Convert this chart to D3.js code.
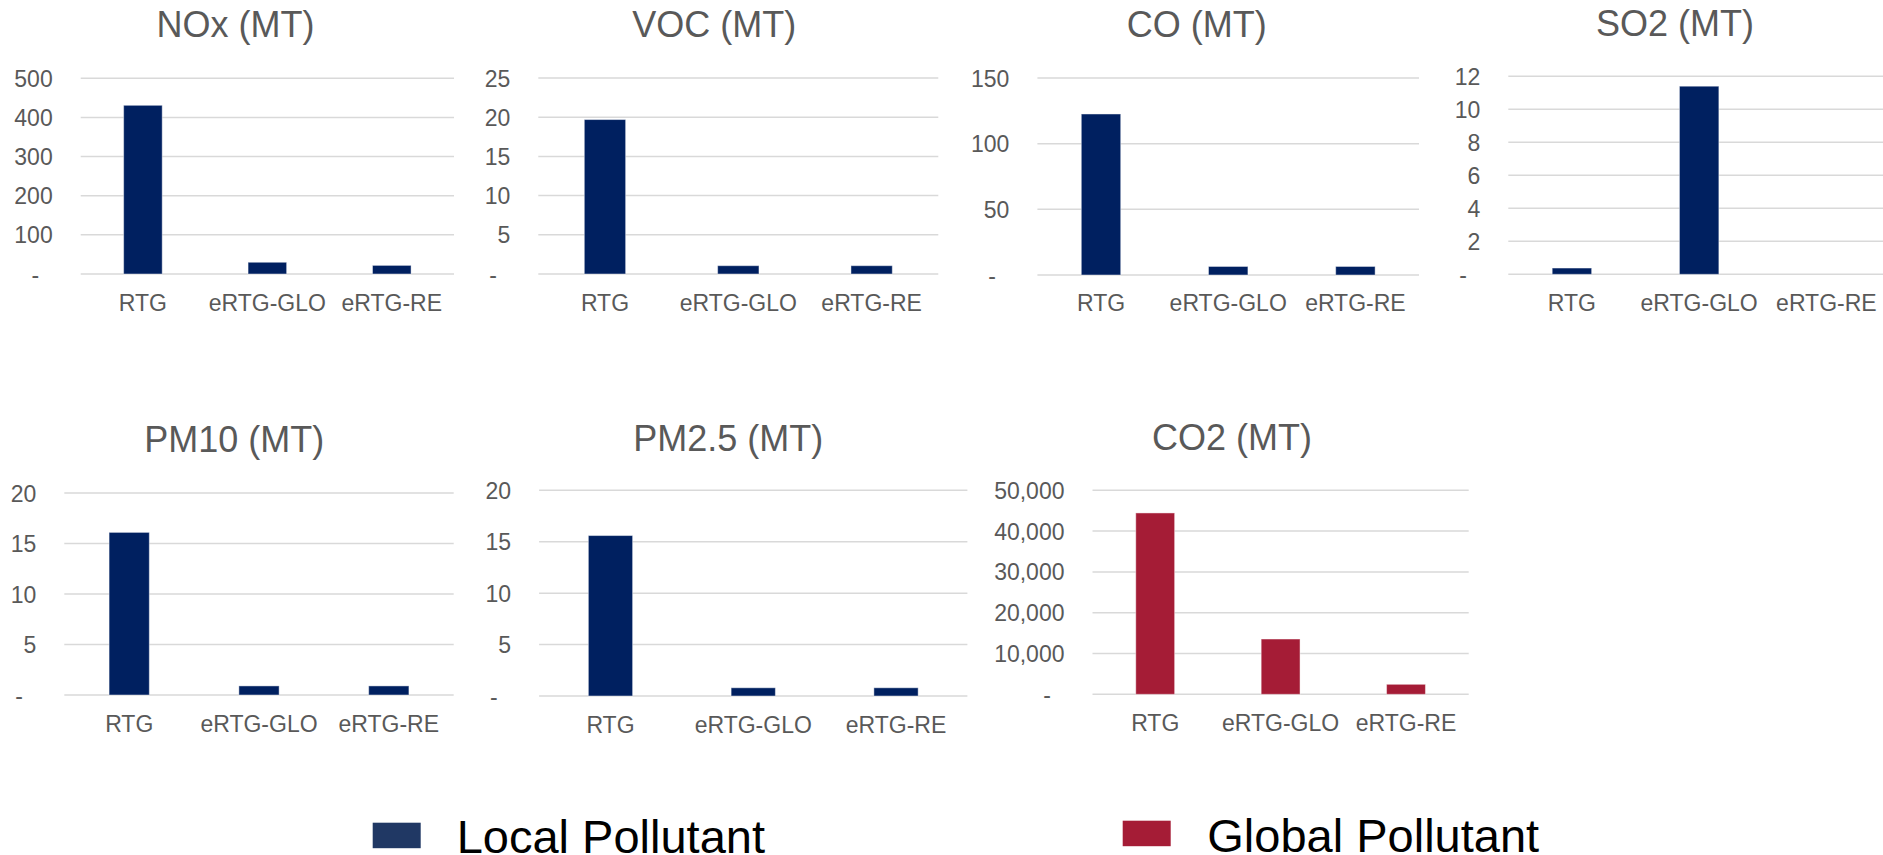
<!DOCTYPE html>
<html>
<head>
<meta charset="utf-8">
<script src="https://cdn.jsdelivr.net/npm/d3@7"></script>
<style>
  html, body { margin: 0; padding: 0; background: #ffffff; }
  svg { display: block; }
  text { font-family: "Liberation Sans", Arial, sans-serif; }
</style>
</head>
<body>
<svg id="chart" width="1883" height="855"></svg>
<script>
// ---------------- DATA ----------------
const categories = ["RTG", "eRTG-GLO", "eRTG-RE"];

const noxTitle = "NOx (MT)";
const noxValues = [431, 30, 22];
const noxTicks = [0, 100, 200, 300, 400, 500];

const vocTitle = "VOC (MT)";
const vocValues = [19.7, 1.06, 1.06];
const vocTicks = [0, 5, 10, 15, 20, 25];

const coTitle = "CO (MT)";
const coValues = [122.6, 6.5, 6.5];
const coTicks = [0, 50, 100, 150];

const so2Title = "SO2 (MT)";
const so2Values = [0.38, 11.4, 0];
const so2Ticks = [0, 2, 4, 6, 8, 10, 12];

const pm10Title = "PM10 (MT)";
const pm10Values = [16.1, 0.9, 0.9];
const pm10Ticks = [0, 5, 10, 15, 20];

const pm25Title = "PM2.5 (MT)";
const pm25Values = [15.6, 0.8, 0.8];
const pm25Ticks = [0, 5, 10, 15, 20];

const co2Title = "CO2 (MT)";
const co2Values = [44450, 13550, 2450];
const co2Ticks = [0, 10000, 20000, 30000, 40000, 50000];

const legendLabels = ["Local Pollutant", "Global Pollutant"];

// ---------------- STYLE / LAYOUT ----------------
const localColor = "#002060";
const globalColor = "#A51C36";
const legendLocalColor = "#203864";
const legendGlobalColor = "#A51C36";
const textGray = "#595959";
const gridGray = "#D9D9D9";

const panels = [
  { title: noxTitle, values: noxValues, ticks: noxTicks, color: localColor, comma: false,
    x0: 80.7, x1: 454, yTop: 78.3, yBot: 274, titleX: 235.5, titleY: 36.5, labelY: 311 },
  { title: vocTitle, values: vocValues, ticks: vocTicks, color: localColor, comma: false,
    x0: 538.3, x1: 938.3, yTop: 78, yBot: 274, titleX: 714.2, titleY: 36.5, labelY: 311 },
  { title: coTitle, values: coValues, ticks: coTicks, color: localColor, comma: false,
    x0: 1037.4, x1: 1419, yTop: 78, yBot: 275, titleX: 1196.7, titleY: 36.5, labelY: 311 },
  { title: so2Title, values: so2Values, ticks: so2Ticks, color: localColor, comma: false,
    x0: 1508.3, x1: 1890, yTop: 76.3, yBot: 274.3, titleX: 1675, titleY: 35.5, labelY: 311 },
  { title: pm10Title, values: pm10Values, ticks: pm10Ticks, color: localColor, comma: false,
    x0: 64.3, x1: 453.7, yTop: 493, yBot: 695, titleX: 234.3, titleY: 451.5, labelY: 732 },
  { title: pm25Title, values: pm25Values, ticks: pm25Ticks, color: localColor, comma: false,
    x0: 539.1, x1: 967.4, yTop: 490.3, yBot: 696, titleX: 728.3, titleY: 450.7, labelY: 732.5 },
  { title: co2Title, values: co2Values, ticks: co2Ticks, color: globalColor, comma: true,
    x0: 1092.5, x1: 1468.7, yTop: 490.3, yBot: 694.3, titleX: 1232, titleY: 450, labelY: 731.5 }
];

const svg = d3.select("#chart");
const fmtComma = d3.format(",");

panels.forEach(p => {
  const g = svg.append("g");
  const x = d3.scaleBand().domain(categories).range([p.x0, p.x1])
    .paddingInner(0.69).paddingOuter(0.345);
  const y = d3.scaleLinear().domain([0, d3.max(p.ticks)]).range([p.yBot, p.yTop]);

  // gridlines
  g.append("g").selectAll("line").data(p.ticks).join("line")
    .attr("x1", p.x0).attr("x2", p.x1)
    .attr("y1", d => y(d)).attr("y2", d => y(d))
    .attr("stroke", gridGray).attr("stroke-width", 1.5);

  // y axis
  const yAxis = d3.axisLeft(y).tickValues(p.ticks).tickSize(0).tickPadding(0)
    .tickFormat(d => d === 0 ? "-" : (p.comma ? fmtComma(d) : String(d)));
  g.append("g").attr("transform", `translate(${p.x0 - 28},0)`).call(yAxis)
    .call(a => a.select(".domain").remove())
    .call(a => a.selectAll("text")
      .attr("font-size", 23).attr("fill", textGray)
      .attr("font-family", "Liberation Sans, Arial, sans-serif")
      .attr("dy", "0.35em")
      .attr("x", d => d === 0 ? -13.5 : 0));

  // bars
  g.append("g").selectAll("rect").data(p.values).join("rect")
    .attr("x", (d, i) => x(categories[i]))
    .attr("width", x.bandwidth())
    .attr("y", d => y(d))
    .attr("height", d => y(0) - y(d))
    .attr("fill", p.color)
    .attr("stroke", d => d > 0 ? "rgba(255,255,255,0.45)" : "none")
    .attr("stroke-width", 1);

  // x axis
  const xAxis = d3.axisBottom(x).tickSize(0).tickPadding(0);
  g.append("g").attr("transform", `translate(0,${p.yBot})`).call(xAxis)
    .call(a => a.select(".domain").remove())
    .call(a => a.selectAll("text")
      .attr("font-size", 23).attr("fill", textGray)
      .attr("font-family", "Liberation Sans, Arial, sans-serif")
      .attr("y", p.labelY - p.yBot).attr("dy", 0));

  // title
  g.append("text").attr("x", p.titleX).attr("y", p.titleY)
    .attr("text-anchor", "middle").attr("font-size", 36).attr("fill", textGray)
    .text(p.title);
});

// legend
const legend = [
  { label: legendLabels[0], color: legendLocalColor, sx: 372.7, sy: 822.7, tx: 456.7, ty: 853 },
  { label: legendLabels[1], color: legendGlobalColor, sx: 1122.7, sy: 820.7, tx: 1207.3, ty: 851.5 }
];
const lg = svg.append("g");
lg.selectAll("rect").data(legend).join("rect")
  .attr("x", d => d.sx).attr("y", d => d.sy)
  .attr("width", 48).attr("height", 25.5)
  .attr("fill", d => d.color);
lg.selectAll("text").data(legend).join("text")
  .attr("x", d => d.tx).attr("y", d => d.ty)
  .attr("font-size", 47).attr("fill", "#000000")
  .text(d => d.label);
</script>
</body>
</html>
